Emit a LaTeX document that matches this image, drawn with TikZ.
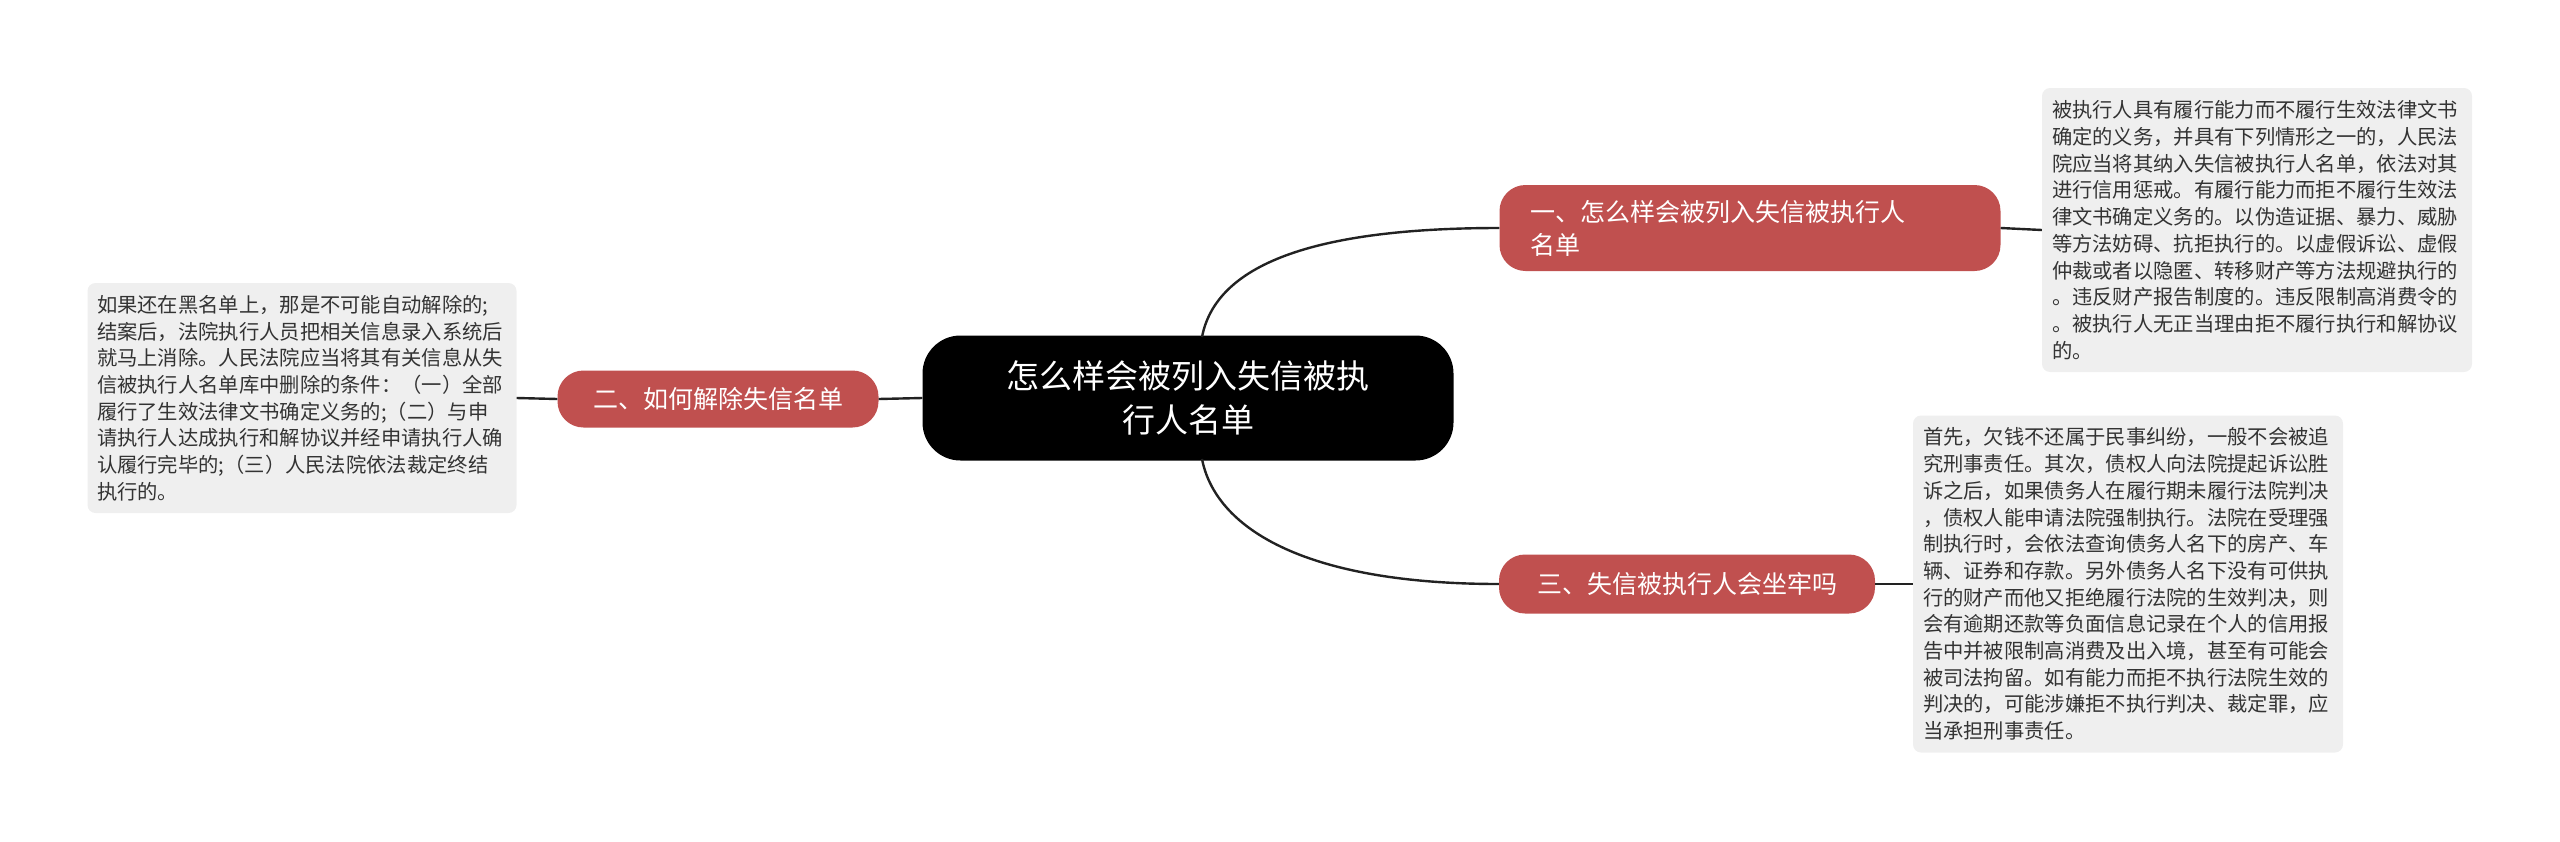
\documentclass[tikz,border=0pt]{standalone}
\usepackage{fontspec}
\setmainfont{Noto Sans CJK SC}
\begin{document}
\begin{tikzpicture}[x=1pt,y=-1pt,
  root/.style={fill=black,text=white,rounded corners=38pt,align=center,font=\fontsize{33}{44}\selectfont,minimum width=531pt,minimum height=125pt,inner sep=0pt},
  branch/.style={fill=red!55!black!95!white,fill=brred,text=white,rounded corners=26pt,align=left,font=\fontsize{25}{33}\selectfont,inner sep=0pt},
  leaf/.style={fill=leafgray,rounded corners=8pt,align=left,text=txt,font=\fontsize{20.3}{26.7}\selectfont,inner sep=0pt,text width=410pt},
  conn/.style={draw=linec,line width=2.4pt}]
\definecolor{brred}{HTML}{C0504F}
\definecolor{leafgray}{HTML}{EFEFEF}
\definecolor{txt}{HTML}{333333}
\definecolor{linec}{HTML}{222222}
\useasboundingbox (0,0) rectangle (2560,841);
\node[root] (root) at (1188,398) {怎么样会被列入失信被执\\行人名单};
\node[branch,minimum width=501pt,minimum height=86pt,text width=440pt] (b1) at (1750,228) {一、怎么样会被列入失信被执行人\\名单};
\node[branch,minimum width=321pt,minimum height=57pt] (b2) at (718,399) {二、如何解除失信名单};
\node[branch,minimum width=376pt,minimum height=59pt] (b3) at (1687,584) {三、失信被执行人会坐牢吗};
\node[leaf,minimum width=430pt,minimum height=284pt] (l1) at (2257,230) {被执行人具有履行能力而不履行生效法律文书\\确定的义务，并具有下列情形之一的，人民法\\院应当将其纳入失信被执行人名单，依法对其\\进行信用惩戒。有履行能力而拒不履行生效法\\律文书确定义务的。以伪造证据、暴力、威胁\\等方法妨碍、抗拒执行的。以虚假诉讼、虚假\\仲裁或者以隐匿、转移财产等方法规避执行的\\。违反财产报告制度的。违反限制高消费令的\\。被执行人无正当理由拒不履行执行和解协议\\的。};
\node[leaf,minimum width=430pt,minimum height=337pt] (l2) at (2128,584) {首先，欠钱不还属于民事纠纷，一般不会被追\\究刑事责任。其次，债权人向法院提起诉讼胜\\诉之后，如果债务人在履行期未履行法院判决\\，债权人能申请法院强制执行。法院在受理强\\制执行时，会依法查询债务人名下的房产、车\\辆、证券和存款。另外债务人名下没有可供执\\行的财产而他又拒绝履行法院的生效判决，则\\会有逾期还款等负面信息记录在个人的信用报\\告中并被限制高消费及出入境，甚至有可能会\\被司法拘留。如有能力而拒不执行法院生效的\\判决的，可能涉嫌拒不执行判决、裁定罪，应\\当承担刑事责任。};
\node[leaf,minimum width=429pt,minimum height=230pt] (l3) at (302,398) {如果还在黑名单上，那是不可能自动解除的;\\结案后，法院执行人员把相关信息录入系统后\\就马上消除。人民法院应当将其有关信息从失\\信被执行人名单库中删除的条件：（一）全部\\履行了生效法律文书确定义务的;（二）与申\\请执行人达成执行和解协议并经申请执行人确\\认履行完毕的;（三）人民法院依法裁定终结\\执行的。};
\coordinate (r1) at (1202,337);
\coordinate (r3) at (1202,459);
\draw[conn] (r1) .. controls (1215,270) and (1300,228) .. (b1.west);
\draw[conn] (r3) .. controls (1215,526) and (1300,584) .. (b3.west);
\draw[conn] (root.west) -- (b2.east);
\draw[conn] (b1.east) -- (l1.west);
\draw[conn] (b3.east) -- (l2.west);
\draw[conn] (b2.west) -- (l3.east);
\end{tikzpicture}
\end{document}
